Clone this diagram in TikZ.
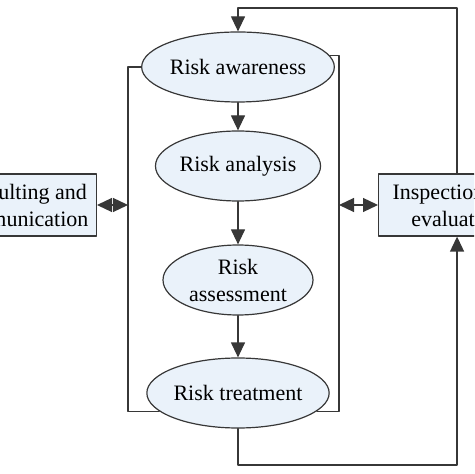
\documentclass[tikz,border=0pt]{standalone}
\usepackage{fontspec}
\setmainfont{Liberation Serif}
\usepackage{tikz}
\usetikzlibrary{arrows.meta}
\usetikzlibrary{positioning}
\usetikzlibrary{shapes.geometric}
\definecolor{paleblue}{RGB}{234,242,250}
\definecolor{linegray}{RGB}{55,55,55}

\begin{document}
\begin{tikzpicture}[line cap=round,line join=round,line width=0.6pt,>={Triangle[length=7.5pt,width=7pt]},x=0.5pt,y=-0.5pt,
  every node/.style={font=\fontsize{11}{13.5}\selectfont},
  stage/.style={ellipse,draw=linegray,fill=paleblue,minimum width=75pt,minimum height=35pt,inner sep=0pt,align=center},
  sidebox/.style={rectangle,draw=linegray,fill=paleblue,minimum height=31pt,inner xsep=7pt,align=center}]
\path[use as bounding box,clip] (0,0) rectangle (474,474);
% main chain
\node[stage] (aware) at (238,67) {Risk awareness};
\node[stage] (analysis) at (238,166) {Risk analysis};
\node[stage] (assess) at (238,280) {Risk\\assessment};
\node[stage] (treat) at (238,393) {Risk treatment};
% side boxes
\node[sidebox,anchor=east,inner xsep=4pt] (consult) at (97,205) {Consulting and\\communication};
\node[sidebox,anchor=west] (inspect) at (378,205) {Inspection and\\evaluation};
\coordinate (lft) at (128,205);
\coordinate (rgt) at (339,205);
\coordinate (tp) at (238,8);
\coordinate (btm) at (238,465);
\draw[->,color=linegray] (aware) -- (analysis);
\draw[->,color=linegray] (analysis) -- (assess);
\draw[->,color=linegray] (assess) -- (treat);
\draw[color=linegray] (aware.west) -| (lft) |- (treat.193);
\draw[color=linegray] (aware.7) -| (rgt) |- (treat.-13);
\draw[<->,color=linegray] (consult.east) -- (lft);
\draw[<->,color=linegray] (rgt) -- (inspect.west);
% feedback loop
\draw[->,color=linegray] (treat.south) -- (btm) -| (inspect.south);
\draw[->,color=linegray] (inspect.north) |- (tp) -- (aware.north);
\end{tikzpicture}
\end{document}
